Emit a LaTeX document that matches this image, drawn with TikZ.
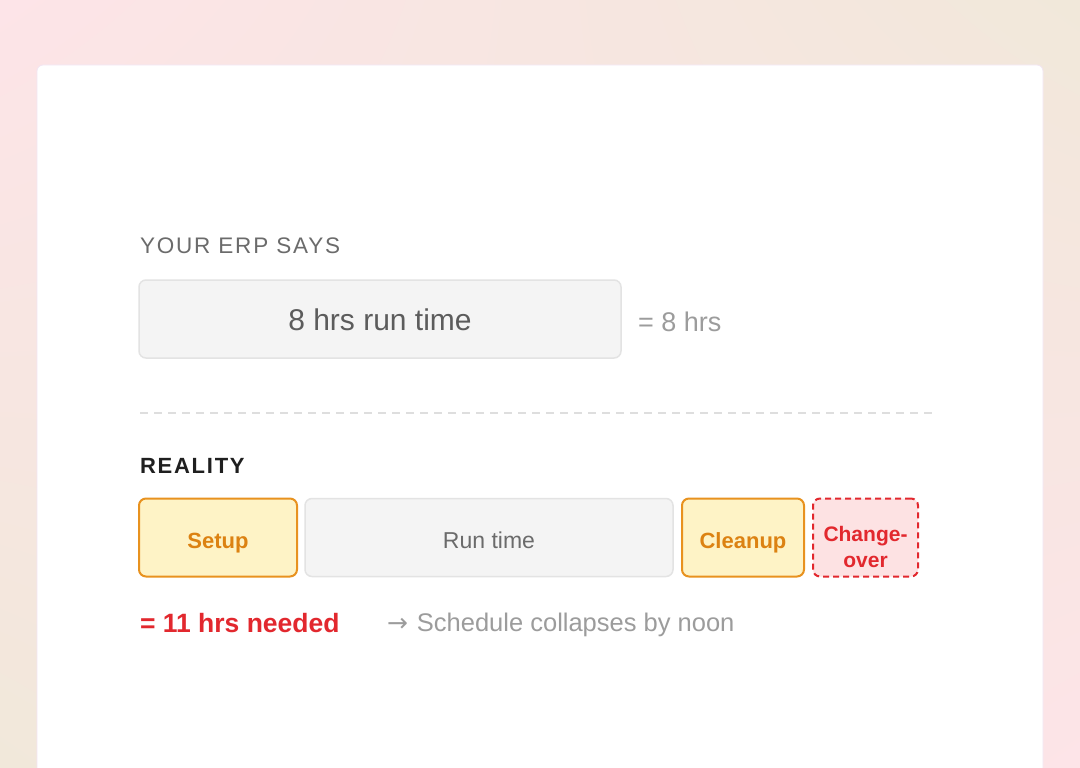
\documentclass[tikz,border=0pt]{standalone}
\usepackage{fontspec}
\setmainfont{Liberation Sans}
\newfontfamily\capsfont[LetterSpace=8]{Liberation Sans}
\newfontfamily\arrowfont{DejaVu Sans}
\usetikzlibrary{shadings}
\definecolor{bgpink}{HTML}{FDE4E8}
\definecolor{bgbeige}{HTML}{F1E8DA}
\definecolor{boxgray}{HTML}{F4F4F4}
\definecolor{linegray}{HTML}{E3E3E3}
\definecolor{dashgray}{HTML}{DEDEDE}
\definecolor{textgray}{HTML}{5C5C5C}
\definecolor{softgray}{HTML}{9C9C9C}
\definecolor{headgray}{HTML}{6B6B6B}
\definecolor{nearblack}{HTML}{1F1F1F}
\definecolor{setupfill}{HTML}{FEF3C6}
\definecolor{setupline}{HTML}{E8921F}
\definecolor{setuptext}{HTML}{DC8212}
\definecolor{changefill}{HTML}{FDE2E3}
\definecolor{alertred}{HTML}{E2282E}

\begin{document}
\begin{tikzpicture}[y=-1pt, x=1pt, inner sep=0pt, outer sep=0pt,
  label/.style={anchor=base west},
  bar/.style={rounded corners=7pt, minimum height=78pt, text height=21pt, text depth=0pt},
  graybar/.style={bar, fill=boxgray, draw=linegray, line width=1.5pt},
  extrabar/.style={bar, fill=setupfill, draw=setupline, line width=2pt,
    text=setuptext, font=\bfseries\fontsize{22}{26}\selectfont},
  lossbar/.style={bar, fill=changefill, draw=alertred, line width=2pt,
    dash pattern=on 6pt off 4pt, text=alertred, align=center,
    font=\bfseries\fontsize{21}{26}\selectfont}]
\useasboundingbox (0,0) rectangle (1080,768);
\clip (0,0) rectangle (1080,768);

% backdrop and card
\shade[upper left=bgpink, upper right=bgbeige, lower left=bgbeige, lower right=bgpink]
  (0,0) rectangle (1080,768);
\path[fill=white, draw=white!90!violet, line width=0.8pt, rounded corners=6pt]
  (37,65) rectangle (1043,800);

% what the ERP plans
\node[label, text=headgray] (erptitle) at (140,253)
  {\capsfont\fontsize{22.5}{26}\selectfont YOUR ERP SAYS};
\node[graybar, minimum width=482pt, text height=22pt, text=textgray,
  font=\fontsize{30}{34}\selectfont] (erpbar) at (380,319) {8 hrs run time};
\node[label, text=softgray, font=\fontsize{27}{30}\selectfont] (erptotal) at (638,331)
  {= 8 hrs};

% divider
\coordinate (divleft) at (140,413);
\coordinate (divright) at (935,413);
\draw[dashgray, line width=2pt, dash pattern=on 8pt off 6pt] (divleft) -- (divright);

% what really happens
\node[label, text=nearblack] (realtitle) at (140,473)
  {\capsfont\bfseries\fontsize{22}{26}\selectfont REALITY};
\node[extrabar, minimum width=158pt] (setup) at (218,537.5) {Setup};
\node[graybar, minimum width=368pt, text=headgray,
  font=\fontsize{23}{27}\selectfont] (runtime) at (489,537.5) {Run time};
\node[extrabar, minimum width=122pt] (cleanup) at (743,537.5) {Cleanup};
\node[lossbar, minimum width=105pt, text height=59pt] (change) at (865.5,537.5) {Change-\\over};

\node[label, text=alertred, font=\bfseries\fontsize{26.5}{30}\selectfont] (needed) at (140,632)
  {= 11 hrs needed};
\node[label, text=softgray, font=\fontsize{25.5}{28}\selectfont] (collapse) at (387,631)
  {{\arrowfont\fontsize{25}{28}\selectfont →}\hspace{9pt}Schedule collapses by noon};
\end{tikzpicture}
\end{document}
